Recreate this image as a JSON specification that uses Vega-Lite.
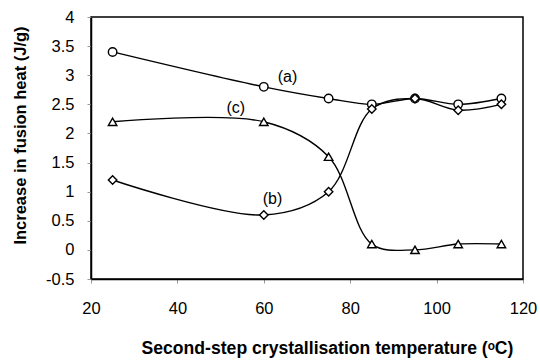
{
  "$schema": "https://vega.github.io/schema/vega-lite/v6.json",
  "width": 432,
  "height": 262,
  "autosize": "none",
  "padding": {"left": 91, "top": 17, "right": 17, "bottom": 84},
  "background": "white",
  "config": {
    "view": {"stroke": "black", "strokeWidth": 1.5},
    "font": "Liberation Sans",
    "axis": {"labelOverlap": false, "labelFlush": false, "labelBound": false, "grid": false}
  },
  "datasets": {
    "pts": [
      {"T": 25, "v": 3.4, "s": "a"},
      {"T": 60, "v": 2.8, "s": "a"},
      {"T": 75, "v": 2.6, "s": "a"},
      {"T": 85, "v": 2.5, "s": "a"},
      {"T": 95, "v": 2.6, "s": "a"},
      {"T": 105, "v": 2.5, "s": "a"},
      {"T": 115, "v": 2.6, "s": "a"},
      {"T": 25, "v": 1.2, "s": "b"},
      {"T": 60, "v": 0.6, "s": "b"},
      {"T": 75, "v": 1.0, "s": "b"},
      {"T": 85, "v": 2.42, "s": "b"},
      {"T": 95, "v": 2.6, "s": "b"},
      {"T": 105, "v": 2.4, "s": "b"},
      {"T": 115, "v": 2.5, "s": "b"},
      {"T": 25, "v": 2.2, "s": "c"},
      {"T": 60, "v": 2.2, "s": "c"},
      {"T": 75, "v": 1.6, "s": "c"},
      {"T": 85, "v": 0.1, "s": "c"},
      {"T": 95, "v": 0.0, "s": "c"},
      {"T": 105, "v": 0.1, "s": "c"},
      {"T": 115, "v": 0.1, "s": "c"}
    ],
    "labels": [
      {"T": 65.5, "v": 2.97, "t": "(a)"},
      {"T": 62, "v": 0.88, "t": "(b)"},
      {"T": 53.5, "v": 2.44, "t": "(c)"}
    ]
  },
  "encoding": {
    "x": {
      "field": "T", "type": "quantitative",
      "scale": {"domain": [20, 120], "nice": false, "zero": false},
      "axis": {
        "values": [20, 40, 60, 80, 100, 120],
        "title": "Second-step crystallisation temperature (ᵒC)",
        "domainColor": "black", "domainWidth": 1.5,
        "tickColor": "#999", "tickSize": 4,
        "labelFontSize": 16.5, "labelColor": "black", "labelPadding": 17,
        "titleFontSize": 17.6, "titleFontWeight": "bold", "titleColor": "black", "titlePadding": 23,
        "titleX": 236
      }
    },
    "y": {
      "field": "v", "type": "quantitative",
      "scale": {"domain": [-0.5, 4], "nice": false, "zero": false},
      "axis": {
        "values": [-0.5, 0, 0.5, 1, 1.5, 2, 2.5, 3, 3.5, 4],
        "labelExpr": "toString(datum.value)",
        "title": "Increase in fusion heat (J/g)",
        "domainColor": "black", "domainWidth": 1.5,
        "tickColor": "#999", "tickSize": 4,
        "labelFontSize": 16.5, "labelColor": "black", "labelPadding": 13,
        "titleFontSize": 16.5, "titleFontWeight": "bold", "titleColor": "black", "titlePadding": 17,
        "titleY": 118
      }
    }
  },
  "layer": [
    {
      "data": {"name": "pts"},
      "mark": {"type": "line", "interpolate": "catmull-rom", "color": "black", "strokeWidth": 1.4},
      "encoding": {
        "detail": {"field": "s"}
      }
    },
    {
      "data": {"name": "pts"},
      "mark": {"type": "point", "filled": true, "fill": "white", "stroke": "black", "strokeWidth": 1.4, "size": 72, "opacity": 1},
      "encoding": {
        "shape": {
          "field": "s", "type": "nominal",
          "scale": {"domain": ["a", "b", "c"], "range": ["circle", "diamond", "triangle-up"]},
          "legend": null
        }
      }
    },
    {
      "data": {"name": "labels"},
      "mark": {"type": "text", "fontSize": 16, "color": "black", "font": "Liberation Sans"},
      "encoding": {
        "text": {"field": "t"}
      }
    }
  ]
}
